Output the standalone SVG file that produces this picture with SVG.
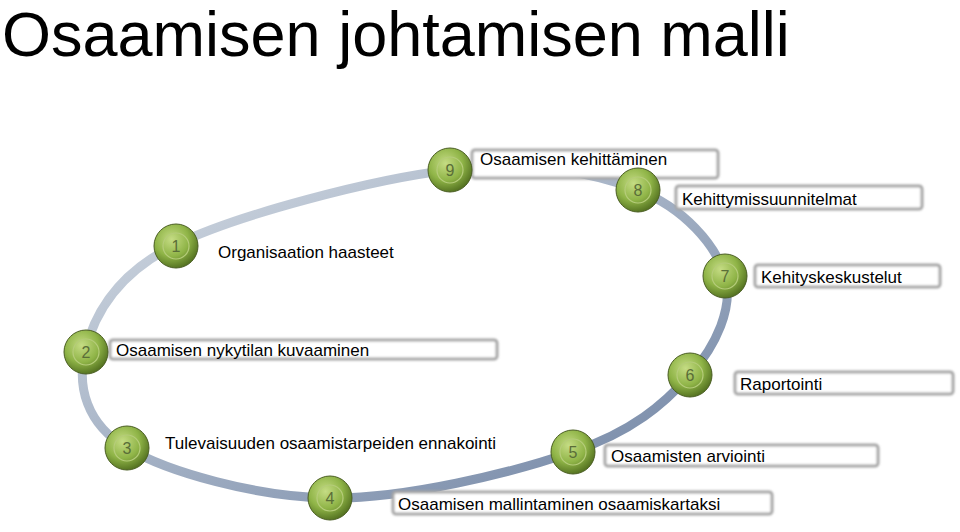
<svg xmlns="http://www.w3.org/2000/svg" width="960" height="532" viewBox="0 0 960 532">
<defs>
<radialGradient id="g" cx="0.4" cy="0.35" r="0.7">
<stop offset="0" stop-color="#c5dc84"/><stop offset="0.55" stop-color="#8fb447"/><stop offset="1" stop-color="#4d6a1c"/>
</radialGradient>
<linearGradient id="ring" x1="0" y1="0" x2="1" y2="1">
<stop offset="0" stop-color="#d5dce4"/><stop offset="1" stop-color="#6f83a3"/>
</linearGradient>
<filter id="blur" x="-10%" y="-50%" width="120%" height="200%"><feGaussianBlur stdDeviation="1.2"/></filter>
</defs>
<style>
.t{font-family:"Liberation Sans","Open Sans",sans-serif;font-size:17px;fill:#000}
.n{font-family:"Liberation Sans",sans-serif;font-size:16px;fill:#5a6e38;text-anchor:middle}
.b{fill:#fff;stroke:#a6a6a6;stroke-width:3;filter:url(#blur)}
.ball{fill:url(#g);stroke:#4a5e22;stroke-width:1}
.in{fill:none;stroke:#b5cc7a;stroke-width:1.2}
</style>
<text x="2" y="56" font-family="Liberation Sans,Open Sans,sans-serif" font-size="63" fill="#000">Osaamisen johtamisen malli</text>
<g id="connectors">
<path d="M450,170 C527,161 592,172 638,190 C684,208 716,245 725,276 C734,307 716,346 690,375 C664,404 632,432 572,452 C512,473 404,499 330,498 C256,497 168,472 127,448 C86,424 77,386 85,352 C93,318 114,275 175,245 C236,215 373,179 450,170 Z" fill="none" stroke="url(#ring)" stroke-width="9"/>
</g>
<g id="boxes">
<rect class="b" x="472" y="150" width="246" height="28" rx="3"/>
<rect class="b" x="676" y="186" width="246" height="23" rx="3"/>
<rect class="b" x="755" y="265" width="185" height="22" rx="3"/>
<rect class="b" x="110" y="340" width="387" height="19" rx="3"/>
<rect class="b" x="735" y="372" width="218" height="22" rx="3"/>
<rect class="b" x="605" y="445" width="273" height="21" rx="3"/>
<rect class="b" x="393" y="492" width="379" height="22" rx="3"/>
</g>
<g id="n9"><circle class="ball" cx="450" cy="170" r="22"/><circle class="in" cx="450" cy="170" r="13"/><text class="n" x="450" y="176">9</text><text class="t" x="480" y="165">Osaamisen kehittäminen</text></g>
<g id="n8"><circle class="ball" cx="638" cy="190" r="22"/><circle class="in" cx="638" cy="190" r="13"/><text class="n" x="638" y="196">8</text><text class="t" x="682" y="205">Kehittymissuunnitelmat</text></g>
<g id="n7"><circle class="ball" cx="725" cy="276" r="22"/><circle class="in" cx="725" cy="276" r="13"/><text class="n" x="725" y="282">7</text><text class="t" x="761" y="283">Kehityskeskustelut</text></g>
<g id="n6"><circle class="ball" cx="690" cy="375" r="22"/><circle class="in" cx="690" cy="375" r="13"/><text class="n" x="690" y="381">6</text><text class="t" x="740" y="390">Raportointi</text></g>
<g id="n5"><circle class="ball" cx="573" cy="452" r="22"/><circle class="in" cx="573" cy="452" r="13"/><text class="n" x="573" y="458">5</text><text class="t" x="611" y="462">Osaamisten arviointi</text></g>
<g id="n4"><circle class="ball" cx="330" cy="498" r="22"/><circle class="in" cx="330" cy="498" r="13"/><text class="n" x="330" y="504">4</text><text class="t" x="398" y="510">Osaamisen mallintaminen osaamiskartaksi</text></g>
<g id="n3"><circle class="ball" cx="127" cy="448" r="22"/><circle class="in" cx="127" cy="448" r="13"/><text class="n" x="127" y="454">3</text><text class="t" x="165" y="449">Tulevaisuuden osaamistarpeiden ennakointi</text></g>
<g id="n2"><circle class="ball" cx="86" cy="352" r="22"/><circle class="in" cx="86" cy="352" r="13"/><text class="n" x="86" y="358">2</text><text class="t" x="116" y="356">Osaamisen nykytilan kuvaaminen</text></g>
<g id="n1"><circle class="ball" cx="176" cy="246" r="22"/><circle class="in" cx="176" cy="246" r="13"/><text class="n" x="176" y="252">1</text><text class="t" x="218" y="258">Organisaation haasteet</text></g>
</svg>
